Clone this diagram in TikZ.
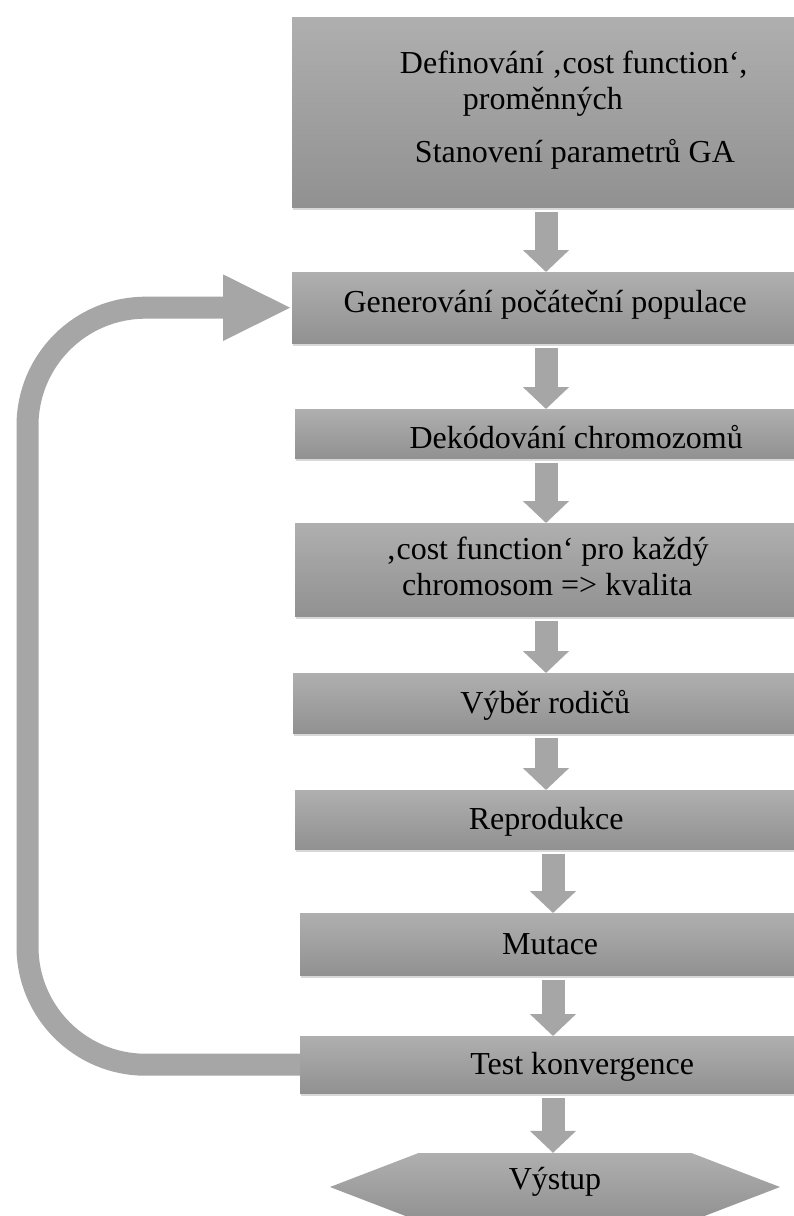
\documentclass[tikz,border=0pt]{standalone}
\usepackage{fontspec}
\setmainfont{Liberation Serif}
\usetikzlibrary{arrows.meta,shadows,shapes.symbols}

\definecolor{boxtop}{RGB}{175,175,175}
\definecolor{boxbottom}{RGB}{145,145,145}
\definecolor{arrowgray}{RGB}{166,166,166}

\begin{document}
\begin{tikzpicture}[x=1pt, y=-1pt,
    box/.style={rectangle, anchor=north west, inner sep=0pt, draw=none,
        top color=boxtop, bottom color=boxbottom,
        font=\fontsize{32}{36}\selectfont,
        drop shadow={shadow xshift=1pt, shadow yshift=-3pt, opacity=0.3}},
    oneline/.style={text height=28pt, text depth=8pt},
    exitbox/.style={signal, signal to=east and west, signal pointer angle=42,
        inner sep=0pt, draw=none, top color=boxtop, bottom color=boxbottom,
        font=\fontsize{32}{36}\selectfont, text height=7.5pt, text depth=2.5pt},
    flow/.style={draw=arrowgray, line width=23pt, shorten <=5pt,
        -{Triangle[width=45pt,length=22pt]}},
    backflow/.style={draw=arrowgray, line width=22pt, rounded corners=118pt,
        -{Triangle[width=61pt,length=69pt]}}]

    \path [fill=white] (0,0) rectangle (793,1216);
    \useasboundingbox (0,0) rectangle (793,1216);

    % Nodes {def, gen, dek, cost, vyber, repro, mut, test, out}
    \node [box, align=left, minimum width=563, minimum height=190] (def) at (292,17)
        {Definování ‚cost function‘,\\\hspace*{63pt}proměnných\\[17pt]\hspace*{15pt}Stanovení parametrů GA\rule[-10pt]{0pt}{0pt}};
    \node [box, oneline, text depth=18pt, minimum width=506, minimum height=71] (gen) at (292,272) {Generování počáteční populace};
    \node [box, oneline, text height=37pt, minimum width=562, minimum height=49] (dek) at (295,409) {Dekódování chromozomů};
    \node [box, align=center, minimum width=504, minimum height=93] (cost) at (295,523)
        {‚cost function‘ pro každý\\chromosom => kvalita\rule[-6pt]{0pt}{0pt}};
    \node [box, oneline, minimum width=504, minimum height=60] (vyber) at (293,673)  {Výběr rodičů};
    \node [box, oneline, minimum width=502, minimum height=59] (repro) at (295,790)  {Reprodukce};
    \node [box, oneline, minimum width=500, minimum height=62] (mut)   at (300,913)  {Mutace};
    \node [box, oneline, minimum width=564, minimum height=57] (test)  at (300,1036) {Test konvergence};
    \node [exitbox, minimum width=450, minimum height=68] (out) at (555,1187) {Výstup};

    % Columns of the arrows
    \coordinate (colA) at (546,0);
    \coordinate (colB) at (553,0);
    \coordinate (loopx) at (27.5,0);

    % Paths
    \draw [flow] (def.south -| colA)   -- (gen.north -| colA);
    \draw [flow] (gen.south -| colA)   -- (dek.north -| colA);
    \draw [flow] (dek.south -| colA)   -- (cost.north -| colA);
    \draw [flow] (cost.south -| colA)  -- (vyber.north -| colA);
    \draw [flow] (vyber.south -| colA) -- (repro.north -| colA);
    \draw [flow] (repro.south -| colB) -- (mut.north -| colB);
    \draw [flow] (mut.south -| colB)   -- (test.north -| colB);
    \draw [flow] (test.south -| colB)  -- (out.north -| colB);
    \draw [backflow] (test.west) -| (loopx |- gen.west) -- (gen.west);

\end{tikzpicture}
\end{document}
